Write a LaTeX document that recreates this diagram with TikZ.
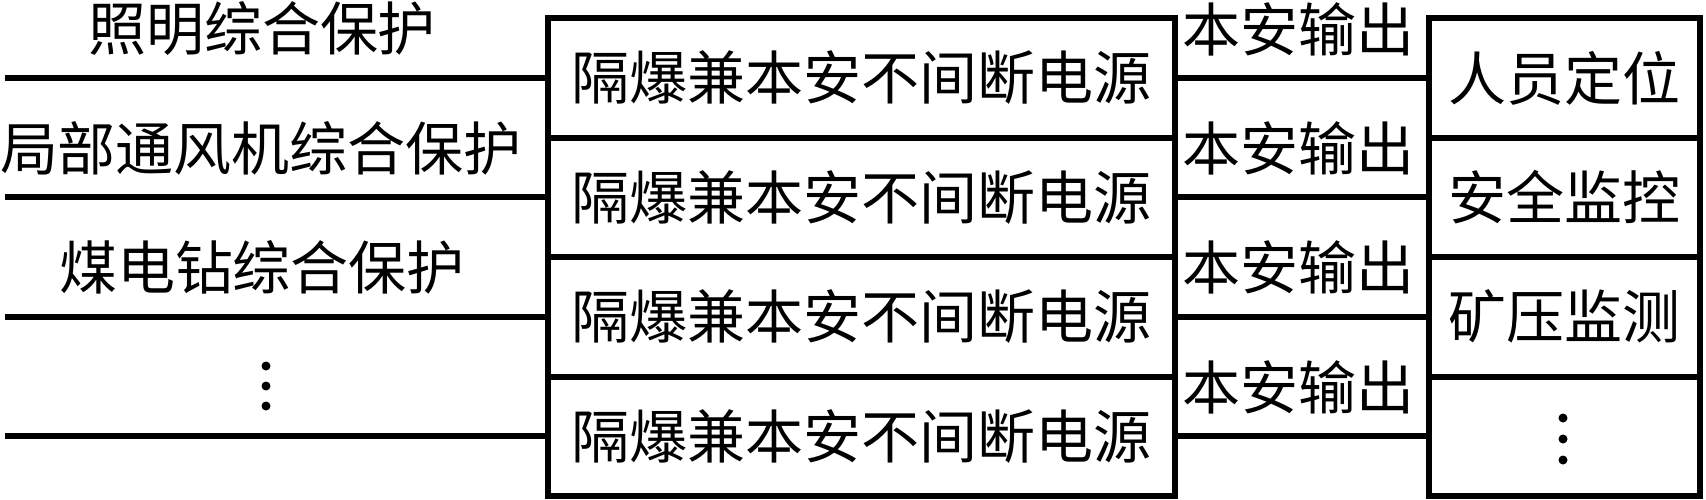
\documentclass[tikz,border=0pt]{standalone}
\usepackage{fontspec}
\newfontfamily\cjk{Noto Sans CJK SC}
\begin{document}
\begin{tikzpicture}[x=1pt,y=-1pt,line width=6pt,line join=miter,
  txt/.style={font=\cjk\fontsize{58}{62}\selectfont},
  ups/.style={txt,draw,rectangle,minimum width=627pt,minimum height=119.4pt,inner sep=0pt},
  dev/.style={txt,draw,rectangle,minimum width=271pt,minimum height=119.4pt,inner sep=0pt},
  lbl/.style={txt,inner sep=0pt},
  blob/.style={circle,fill,draw=none,inner sep=0pt,minimum size=9pt}]
\useasboundingbox (0,0) rectangle (1706,499);
% middle UPS boxes
\node[ups] (u1) at (861.5,78.0)  {隔爆兼本安不间断电源};
\node[ups] (u2) at (861.5,197.4) {隔爆兼本安不间断电源};
\node[ups] (u3) at (861.5,316.8) {隔爆兼本安不间断电源};
\node[ups] (u4) at (861.5,436.2) {隔爆兼本安不间断电源};
% right device boxes
\node[dev] (d1) at (1564.5,78.0)  {人员定位};
\node[dev] (d2) at (1564.5,197.4) {安全监控};
\node[dev] (d3) at (1564.5,316.8) {矿压监测};
\node[dev] (d4) at (1564.5,436.2) {};
\node[blob] (rd1) at (1563,418) {};
\node[blob] (rd2) at (1563,439) {};
\node[blob] (rd3) at (1563,460) {};
% left feeder labels
\node[lbl] (t1) at (262,29)  {照明综合保护};
\node[lbl] (t2) at (261,148.4) {局部通风机综合保护};
\node[lbl] (t3) at (262,267.8) {煤电钻综合保护};
\node[blob] (ld1) at (266,366) {};
\node[blob] (ld2) at (266,386) {};
\node[blob] (ld3) at (266,406) {};
% output labels
\node[lbl] (o1) at (1298,29)    {本安输出};
\node[lbl] (o2) at (1298,148.4) {本安输出};
\node[lbl] (o3) at (1298,267.8) {本安输出};
\node[lbl] (o4) at (1298,387.2) {本安输出};
% left line starts
\coordinate (s1) at (5,78.0);
\coordinate (s2) at (5,197.4);
\coordinate (s3) at (5,316.8);
\coordinate (s4) at (5,436.2);
\foreach \i in {1,2,3,4}{
  \draw (s\i) -- (u\i.west);
  \draw (u\i.east) -- (d\i.west);
}
\end{tikzpicture}
\end{document}
